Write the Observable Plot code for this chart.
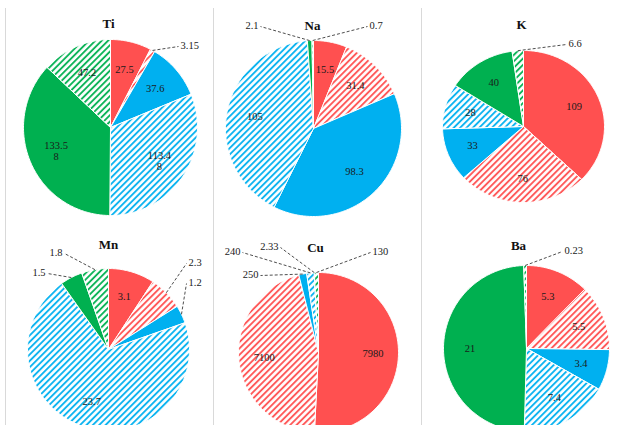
<!DOCTYPE html>
<html><head><meta charset="utf-8">
<script src="https://cdn.jsdelivr.net/npm/d3@7"></script>
<script src="https://cdn.jsdelivr.net/npm/@observablehq/plot@0.6"></script>
<style>body{margin:0;background:#fff;overflow:hidden}</style>
</head><body><div id="chart"></div>
<script>
// ---- data ----
const elements = ["Ti", "Na", "K", "Mn", "Cu", "Ba"];
const categories = ["Series 1", "Series 1 (hatched)", "Series 2", "Series 2 (hatched)", "Series 3", "Series 3 (hatched)"];
const ti = [27.5, 3.15, 37.6, 113.48, 133.58, 47.2];
const na = [15.5, 31.4, 98.3, 105, 2.1, 0.7];
const k  = [109, 76, 33, 28, 40, 6.6];
const mn = [3.1, 2.3, 1.2, 23.7, 1.5, 1.8];
const cu = [7980, 7100, 250, 240, 2.33, 130];
const ba = [5.3, 5.5, 3.4, 7.4, 21, 0.23];
const seriesValues = [ti, na, k, mn, cu, ba];

// ---- layout / style ----
const panels = [
  {cx: 110, cy: 127, rx: 87, ry: 88, tx: 108, ty: 23},
  {cx: 313, cy: 128, rx: 88, ry: 88, tx: 312, ty: 25},
  {cx: 523, cy: 126, rx: 81, ry: 76, tx: 521, ty: 24},
  {cx: 108, cy: 349, rx: 81, ry: 81, tx: 108, ty: 244},
  {cx: 318, cy: 352, rx: 80, ry: 80, tx: 315, ty: 247},
  {cx: 526, cy: 348, rx: 83, ry: 83, tx: 518, ty: 245}
];
const colors = {red: "#FF5050", blue: "#00B0F0", green: "#00B050"};
const fills = [colors.red, "url(#hatch-red)", colors.blue, "url(#hatch-blue)", colors.green, "url(#hatch-green)"];
// outside labels for thin slices: label anchor offset from pie centre
const callouts = [
  {p: 0, s: 1, dx: 70, dy: -82, anchor: "start"},
  {p: 1, s: 4, dx: -55, dy: -103, anchor: "end"},
  {p: 1, s: 5, dx: 56, dy: -103, anchor: "start"},
  {p: 2, s: 5, dx: 45, dy: -83, anchor: "start"},
  {p: 3, s: 1, dx: 80, dy: -87, anchor: "start"},
  {p: 3, s: 2, dx: 80, dy: -67, anchor: "start"},
  {p: 3, s: 4, dx: -63, dy: -77, anchor: "end"},
  {p: 3, s: 5, dx: -46, dy: -97, anchor: "end"},
  {p: 4, s: 2, dx: -60, dy: -78, anchor: "end"},
  {p: 4, s: 3, dx: -78, dy: -101, anchor: "end"},
  {p: 4, s: 4, dx: -40, dy: -106, anchor: "end"},
  {p: 4, s: 5, dx: 54, dy: -101, anchor: "start"},
  {p: 5, s: 5, dx: 38, dy: -98, anchor: "start"}
];
const labelRadius = 0.68;

function fmt(v) {
  const s = String(v);
  return s.length > 5 ? s.slice(0, 5) + "\n" + s.slice(5) : s;
}

// ---- geometry from values ----
const polys = [], inside = [], outLabels = [], leaders = [];
seriesValues.forEach((vals, p) => {
  const P = panels[p];
  const total = d3.sum(vals);
  let acc = 0;
  vals.forEach((v, s) => {
    const a0 = acc / total * 2 * Math.PI;
    acc += v;
    const a1 = acc / total * 2 * Math.PI;
    const key = p + "-" + s;
    polys.push({key, x: P.cx, y: P.cy, fill: fills[s]});
    const n = Math.max(2, Math.ceil((a1 - a0) / (Math.PI / 180)));
    for (let i = 0; i <= n; i++) {
      const a = a0 + (a1 - a0) * i / n;
      polys.push({key, x: P.cx + P.rx * Math.sin(a), y: P.cy - P.ry * Math.cos(a), fill: fills[s]});
    }
    polys.push({key, x: P.cx, y: P.cy, fill: fills[s]});
    const am = (a0 + a1) / 2;
    const c = callouts.find(d => d.p === p && d.s === s);
    if (c) {
      const lx = P.cx + c.dx, ly = P.cy + c.dy;
      outLabels.push({x: lx, y: ly, text: fmt(v), anchor: c.anchor, category: categories[s], element: elements[p]});
      leaders.push({x1: P.cx + P.rx * Math.sin(am), y1: P.cy - P.ry * Math.cos(am), x2: lx + (c.anchor === "start" ? -2 : 2), y2: ly + 1});
    } else {
      inside.push({x: P.cx + labelRadius * P.rx * Math.sin(am), y: P.cy - labelRadius * P.ry * Math.cos(am), text: fmt(v)});
    }
  });
});
const titles = elements.map((e, i) => ({x: panels[i].tx, y: panels[i].ty, text: e}));

const chart = Plot.plot({
  width: 617, height: 425,
  margin: 0,
  x: {domain: [0, 617], range: [0, 617], axis: null},
  y: {domain: [0, 425], range: [0, 425], axis: null},
  color: {type: "identity"},
  style: {fontFamily: "'Liberation Serif', 'Times New Roman', serif", background: "white", overflow: "hidden"},
  marks: [
    Plot.ruleX([5, 213, 421], {y1: 8, y2: 425, stroke: "#d9d9d9", strokeWidth: 1}),
    Plot.line(polys, {x: "x", y: "y", z: "key", fill: "fill", stroke: "white", strokeWidth: 1, strokeLinejoin: "round"}),
    Plot.link(leaders, {x1: "x1", y1: "y1", x2: "x2", y2: "y2", stroke: "#3a3a3a", strokeWidth: 0.9, strokeDasharray: "3,2"}),
    Plot.text(inside, {x: "x", y: "y", text: "text", fontSize: 10.5, fill: "#1a1a1a", lineHeight: 1.0}),
    Plot.text(outLabels.filter(d => d.anchor === "start"), {x: "x", y: "y", text: "text", textAnchor: "start", fontSize: 10.5, fill: "#1a1a1a"}),
    Plot.text(outLabels.filter(d => d.anchor === "end"), {x: "x", y: "y", text: "text", textAnchor: "end", fontSize: 10.5, fill: "#1a1a1a"}),
    Plot.text(titles, {x: "x", y: "y", text: "text", fontSize: 13, fontWeight: "bold", fill: "#111"})
  ]
});

// hatch pattern definitions
const svg = d3.select(chart);
const defs = svg.insert("defs", ":first-child");
Object.entries(colors).forEach(([name, c]) => {
  const pat = defs.append("pattern")
    .attr("id", "hatch-" + name)
    .attr("patternUnits", "userSpaceOnUse")
    .attr("width", 4.5).attr("height", 4.5)
    .attr("patternTransform", "rotate(45)");
  pat.append("rect").attr("width", 4.5).attr("height", 4.5).attr("fill", "white");
  pat.append("line").attr("x1", 1).attr("y1", 0).attr("x2", 1).attr("y2", 4.5)
    .attr("stroke", c).attr("stroke-width", 1.8);
});
document.getElementById("chart").appendChild(chart);
</script>
</body></html>
